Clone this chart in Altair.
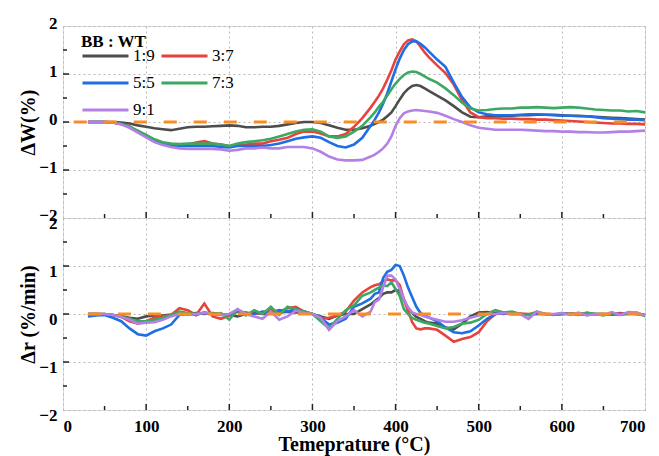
import altair as alt
import pandas as pd

FONT = "Liberation Serif"

# Temperature grid (°C)
T = [30, 40, 50, 60, 70, 80, 90, 100, 110, 120, 130, 140, 150, 160, 170, 180, 190, 200, 210, 220,
     230, 240, 250, 260, 270, 280, 290, 300, 310, 320, 330, 340, 350, 360, 370,
     375, 380, 385, 390, 395, 400, 405, 410, 415, 420, 425, 430, 435, 440,
     450, 460, 470, 480, 490, 500, 510, 520, 530, 540, 550, 560, 570, 580, 590, 600,
     610, 620, 630, 640, 650, 660, 670, 680, 690, 700]

ratios = ["1:9", "3:7", "5:5", "7:3", "9:1"]
colors = ["#4d4d4d", "#e8423c", "#1e6ee6", "#3da862", "#b380e6"]

# ---- Top panel: ΔW (%) ----
w_19 = [0, 0, 0, 0, -0.01, -0.03, -0.07, -0.1, -0.13, -0.15, -0.17, -0.14, -0.11, -0.1, -0.1, -0.09, -0.08, -0.07, -0.08, -0.11,
        -0.11, -0.1, -0.1, -0.08, -0.05, -0.02, 0.0, 0.0, -0.02, -0.07, -0.12, -0.16, -0.16, -0.13, -0.08,
        -0.04, 0.0, 0.05, 0.12, 0.2, 0.33, 0.47, 0.6, 0.69, 0.75, 0.77, 0.75, 0.7, 0.65,
        0.55, 0.45, 0.33, 0.2, 0.11, 0.1, 0.12, 0.13, 0.13, 0.13, 0.14, 0.14, 0.15, 0.15, 0.15, 0.14,
        0.13, 0.13, 0.12, 0.11, 0.1, 0.09, 0.08, 0.07, 0.06, 0.05]
w_37 = [0, 0, 0, -0.01, -0.04, -0.1, -0.2, -0.3, -0.38, -0.44, -0.47, -0.48, -0.47, -0.43, -0.4, -0.45, -0.47, -0.5, -0.48, -0.47,
        -0.45, -0.45, -0.4, -0.37, -0.33, -0.25, -0.2, -0.2, -0.24, -0.3, -0.3, -0.25, -0.1, 0.08, 0.3,
        0.42, 0.55, 0.7, 0.88, 1.08, 1.3, 1.47, 1.62, 1.7, 1.72, 1.68, 1.57, 1.45, 1.35,
        1.18, 1.02, 0.78, 0.45, 0.2, 0.1, 0.08, 0.08, 0.07, 0.07, 0.06, 0.06, 0.05, 0.05, 0.04, 0.03,
        0.02, 0.01, 0.0, -0.01, -0.02, -0.03, -0.03, -0.04, -0.04, -0.05]
w_55 = [0, 0, 0, -0.01, -0.04, -0.1, -0.2, -0.3, -0.4, -0.46, -0.5, -0.5, -0.5, -0.5, -0.5, -0.5, -0.52, -0.53, -0.5, -0.5,
        -0.5, -0.5, -0.48, -0.45, -0.4, -0.35, -0.32, -0.3, -0.33, -0.42, -0.5, -0.53, -0.47, -0.33, -0.08,
        0.05, 0.2, 0.38, 0.6, 0.85, 1.1, 1.32, 1.5, 1.62, 1.68, 1.68, 1.63, 1.56, 1.47,
        1.3, 1.15, 0.82, 0.52, 0.3, 0.2, 0.16, 0.14, 0.14, 0.14, 0.15, 0.16, 0.16, 0.15, 0.14, 0.13,
        0.13, 0.12, 0.12, 0.1, 0.08, 0.07, 0.06, 0.05, 0.05, 0.04]
w_73 = [0, 0, 0, -0.01, -0.04, -0.1, -0.18, -0.27, -0.36, -0.42, -0.45, -0.46, -0.45, -0.45, -0.45, -0.45, -0.47, -0.5, -0.45, -0.42,
        -0.4, -0.38, -0.35, -0.3, -0.25, -0.2, -0.16, -0.15, -0.2, -0.3, -0.33, -0.3, -0.2, -0.08, 0.1,
        0.2, 0.32, 0.42, 0.55, 0.68, 0.8, 0.9, 0.98, 1.03, 1.05, 1.04, 1.0, 0.95, 0.9,
        0.82, 0.7, 0.56, 0.4, 0.28, 0.24, 0.25, 0.27, 0.28, 0.28, 0.3, 0.3, 0.31, 0.3, 0.29, 0.3,
        0.31, 0.3, 0.28, 0.26, 0.25, 0.24, 0.24, 0.22, 0.23, 0.2]
w_91 = [0, 0, 0, -0.01, -0.05, -0.12, -0.22, -0.32, -0.42, -0.48, -0.52, -0.55, -0.56, -0.56, -0.56, -0.56, -0.57, -0.6, -0.58, -0.55,
        -0.55, -0.53, -0.55, -0.55, -0.52, -0.52, -0.52, -0.55, -0.62, -0.72, -0.78, -0.8, -0.8, -0.79, -0.72,
        -0.68, -0.62, -0.55, -0.45, -0.3, -0.08, 0.08, 0.18, 0.22, 0.24, 0.25, 0.24, 0.23, 0.22,
        0.19, 0.13, 0.06, 0.0, -0.07, -0.12, -0.14, -0.16, -0.16, -0.16, -0.16, -0.17, -0.18, -0.19, -0.19, -0.2,
        -0.2, -0.21, -0.21, -0.22, -0.22, -0.21, -0.2, -0.2, -0.19, -0.18]

# ---- Bottom panel: Δr (%/min) ----
r_19 = [0, 0, -0.01, -0.02, -0.04, -0.08, -0.1, -0.05, -0.03, -0.03, -0.01, 0.02, 0.0, 0.02, 0.0, 0.02, 0.0, -0.02, -0.05, 0.0,
        0.03, 0.0, 0.02, 0.03, 0.05, 0.03, 0.02, 0.0, -0.05, -0.1, -0.03, 0.0, 0.0, 0.1, 0.2,
        0.27, 0.33, 0.42, 0.45, 0.45, 0.5, 0.48, 0.3, 0.12, 0.02, -0.06, -0.1, -0.15, -0.18,
        -0.2, -0.28, -0.32, -0.2, -0.05, 0.03, 0.04, 0.02, 0.0, 0.02, 0.0, -0.02, 0.02, 0.0, -0.01, 0.0,
        0.0, 0.01, -0.01, 0.0, 0.0, -0.01, 0.0, 0.01, 0.0, -0.02]
r_37 = [0, 0, 0, -0.02, -0.06, -0.15, -0.2, -0.15, -0.08, -0.05, -0.02, 0.12, 0.08, -0.02, 0.22, -0.05, -0.1, -0.03, 0.05, 0.02,
        0.0, 0.03, 0.08, 0.05, 0.12, 0.15, 0.05, 0.0, -0.1, -0.08, -0.03, 0.05, 0.28, 0.45, 0.56,
        0.6, 0.62, 0.68, 0.72, 0.7, 0.7, 0.6, 0.3, 0.06, -0.17, -0.3, -0.32, -0.3, -0.3,
        -0.33, -0.45, -0.58, -0.52, -0.48, -0.38, -0.15, 0.0, 0.02, 0.0, 0.01, 0.0, 0.02, 0.0, -0.01, 0.0,
        0.01, 0.0, 0.02, 0.0, -0.01, 0.0, 0.02, 0.0, 0.01, -0.02]
r_55 = [-0.05, -0.03, -0.02, -0.08, -0.15, -0.3, -0.42, -0.45, -0.36, -0.3, -0.22, -0.02, 0.0, -0.02, 0.03, 0.0, -0.02, 0.0, 0.05, 0.03,
        0.0, 0.05, 0.02, 0.08, 0.05, 0.1, 0.05, 0.0, -0.08, -0.22, -0.18, -0.1, 0.15, 0.22, 0.32,
        0.42, 0.45, 0.75, 0.88, 0.92, 1.02, 1.0, 0.8, 0.55, 0.35, 0.15, 0.02, -0.03, -0.07,
        -0.15, -0.28, -0.38, -0.4, -0.36, -0.24, -0.1, 0.0, 0.02, 0.0, 0.0, -0.02, 0.0, 0.0, -0.01, 0.0,
        0.01, 0.0, -0.02, 0.0, 0.0, -0.01, 0.0, 0.01, 0.0, -0.02]
r_73 = [0, 0, 0, -0.02, -0.05, -0.1, -0.15, -0.15, -0.12, -0.08, -0.02, 0.05, 0.02, 0.0, 0.03, 0.0, 0.02, -0.12, 0.1, -0.03,
        0.08, 0.0, 0.15, -0.02, 0.15, 0.1, 0.05, 0.0, -0.15, -0.3, -0.1, 0.08, 0.18, 0.38, 0.45,
        0.5, 0.55, 0.6, 0.58, 0.66, 0.52, 0.38, 0.1, 0.0, -0.08, -0.12, -0.15, -0.18, -0.2,
        -0.25, -0.3, -0.27, -0.2, -0.18, -0.12, 0.0, 0.08, 0.03, 0.05, 0.0, -0.02, 0.05, 0.0, -0.02, 0.02,
        0.0, -0.02, 0.03, 0.0, -0.03, 0.02, -0.02, 0.0, 0.03, -0.05]
r_91 = [0, 0, 0, -0.02, -0.06, -0.12, -0.2, -0.18, -0.17, -0.12, -0.05, 0.0, -0.02, 0.0, 0.02, 0.0, -0.02, 0.0, 0.1, 0.0,
        -0.05, -0.1, 0.05, -0.12, -0.05, 0.07, 0.02, 0.0, -0.08, -0.33, -0.15, -0.05, 0.08, -0.05, 0.05,
        0.25, 0.3, 0.55, 0.8, 0.8, 0.72, 0.52, 0.3, 0.14, 0.03, 0.0, -0.02, -0.05, -0.08,
        -0.12, -0.16, -0.16, -0.13, -0.08, -0.03, 0.0, 0.0, 0.02, 0.0, 0.0, -0.1, 0.05, 0.0, 0.0, 0.02,
        -0.02, 0.03, -0.03, 0.0, -0.02, 0.04, -0.02, 0.04, 0.03, -0.03]

# Orange zero reference lines
zero_top_T = [13, 700]
zero_bot_T = [30, 700]

# Axis tick positions
x_major = [0, 100, 200, 300, 400, 500, 600, 700]
x_major_in = [100, 200, 300, 400, 500, 600]
x_minor = [50, 150, 250, 350, 450, 550, 650]
y_major = [-2, -1, 0, 1, 2]
y_major_in = [-1, 0, 1]
y_minor = [-1.5, -0.5, 0.5, 1.5]

PW, PH = 582, 192


def long_df(series):
    rows = []
    for name, vals in zip(ratios, series):
        assert len(vals) == len(T), (name, len(vals))
        for t, v in zip(T, vals):
            rows.append({"T": t, "v": v, "ratio": name})
    return pd.DataFrame(rows)


df_w = long_df([w_19, w_37, w_55, w_73, w_91])
df_r = long_df([r_19, r_37, r_55, r_73, r_91])

xscale = alt.Scale(domain=[0, 700], nice=False, zero=False)
yscale = alt.Scale(domain=[-2, 2], nice=False, zero=False)

GRID = dict(grid=True, gridColor="#b8b8b8", gridDash=[2, 3], gridWidth=1)


def panel(df, zero_T, ytitle, bottom, legend, label_offset):
    xaxis = alt.Axis(values=x_major, ticks=False, domain=False,
                     labels=bottom, title="Temeprature (°C)" if bottom else None,
                     labelFont=FONT, labelFontWeight="bold", labelFontSize=17, labelColor="black",
                     labelPadding=8, titleFont=FONT, titleFontWeight="bold", titleFontSize=20,
                     titleColor="black", titlePadding=0, **GRID)
    yaxis = alt.Axis(values=y_major, ticks=False, domain=False, title=ytitle,
                     labelFont=FONT, labelFontWeight="bold", labelFontSize=17, labelColor="black",
                     labelPadding=6, labelOffset=label_offset,
                     titleFont=FONT, titleFontWeight="bold", titleFontSize=20, titleColor="black",
                     titlePadding=0, **GRID)
    if legend:
        leg = alt.Legend(title="BB : WT", orient="none", legendX=18, legendY=8, columns=2,
                         direction="horizontal",
                         symbolType="stroke", symbolSize=2116, symbolStrokeWidth=3,
                         labelFont=FONT, labelFontSize=17, labelColor="black", labelOffset=3,
                         titleFont=FONT, titleFontSize=17, titleFontWeight="bold", titleColor="black",
                         titlePadding=-3, columnPadding=5, rowPadding=10, clipHeight=16)
    else:
        leg = None
    lines = alt.Chart(df).mark_line(strokeWidth=2.6).encode(
        x=alt.X("T:Q", scale=xscale, axis=xaxis),
        y=alt.Y("v:Q", scale=yscale, axis=yaxis),
        color=alt.Color("ratio:N", scale=alt.Scale(domain=ratios, range=colors), legend=leg),
    )
    zdf = pd.DataFrame({"T": zero_T, "v": [0] * len(zero_T)})
    zero = alt.Chart(zdf).mark_line(color="#fa8c24", strokeWidth=3, strokeDash=[13, 17]).encode(
        x=alt.X("T:Q", scale=xscale), y=alt.Y("v:Q", scale=yscale))
    xmaj = alt.Chart(pd.DataFrame({"T": x_major_in})).mark_rule(color="#222", strokeWidth=1.5).encode(
        x=alt.X("T:Q", scale=xscale), y=alt.value(PH), y2=alt.value(PH - 6))
    xmin = alt.Chart(pd.DataFrame({"T": x_minor})).mark_rule(color="#222", strokeWidth=1.5).encode(
        x=alt.X("T:Q", scale=xscale), y=alt.value(PH), y2=alt.value(PH - 4))
    ymaj = alt.Chart(pd.DataFrame({"v": y_major_in})).mark_rule(color="#222", strokeWidth=1.5).encode(
        y=alt.Y("v:Q", scale=yscale), x=alt.value(0), x2=alt.value(6))
    ymin = alt.Chart(pd.DataFrame({"v": y_minor})).mark_rule(color="#222", strokeWidth=1.5).encode(
        y=alt.Y("v:Q", scale=yscale), x=alt.value(0), x2=alt.value(4))
    return alt.layer(lines, zero, xmaj, xmin, ymaj, ymin).properties(width=PW, height=PH)


top = panel(df_w, zero_top_T, "ΔW(%)", False, True, -3)
bottom = panel(df_r, zero_bot_T, "Δr (%/min)", True, False, 5)

chart = alt.vconcat(top, bottom, spacing=0, bounds="flush").resolve_scale(color="independent").properties(
    padding={"left": 18, "top": 13, "right": 4, "bottom": 5},
).configure_view(stroke="#222", strokeWidth=2).configure(background="white")

chart.save("out.html", embed_options={"renderer": "svg", "actions": False})
